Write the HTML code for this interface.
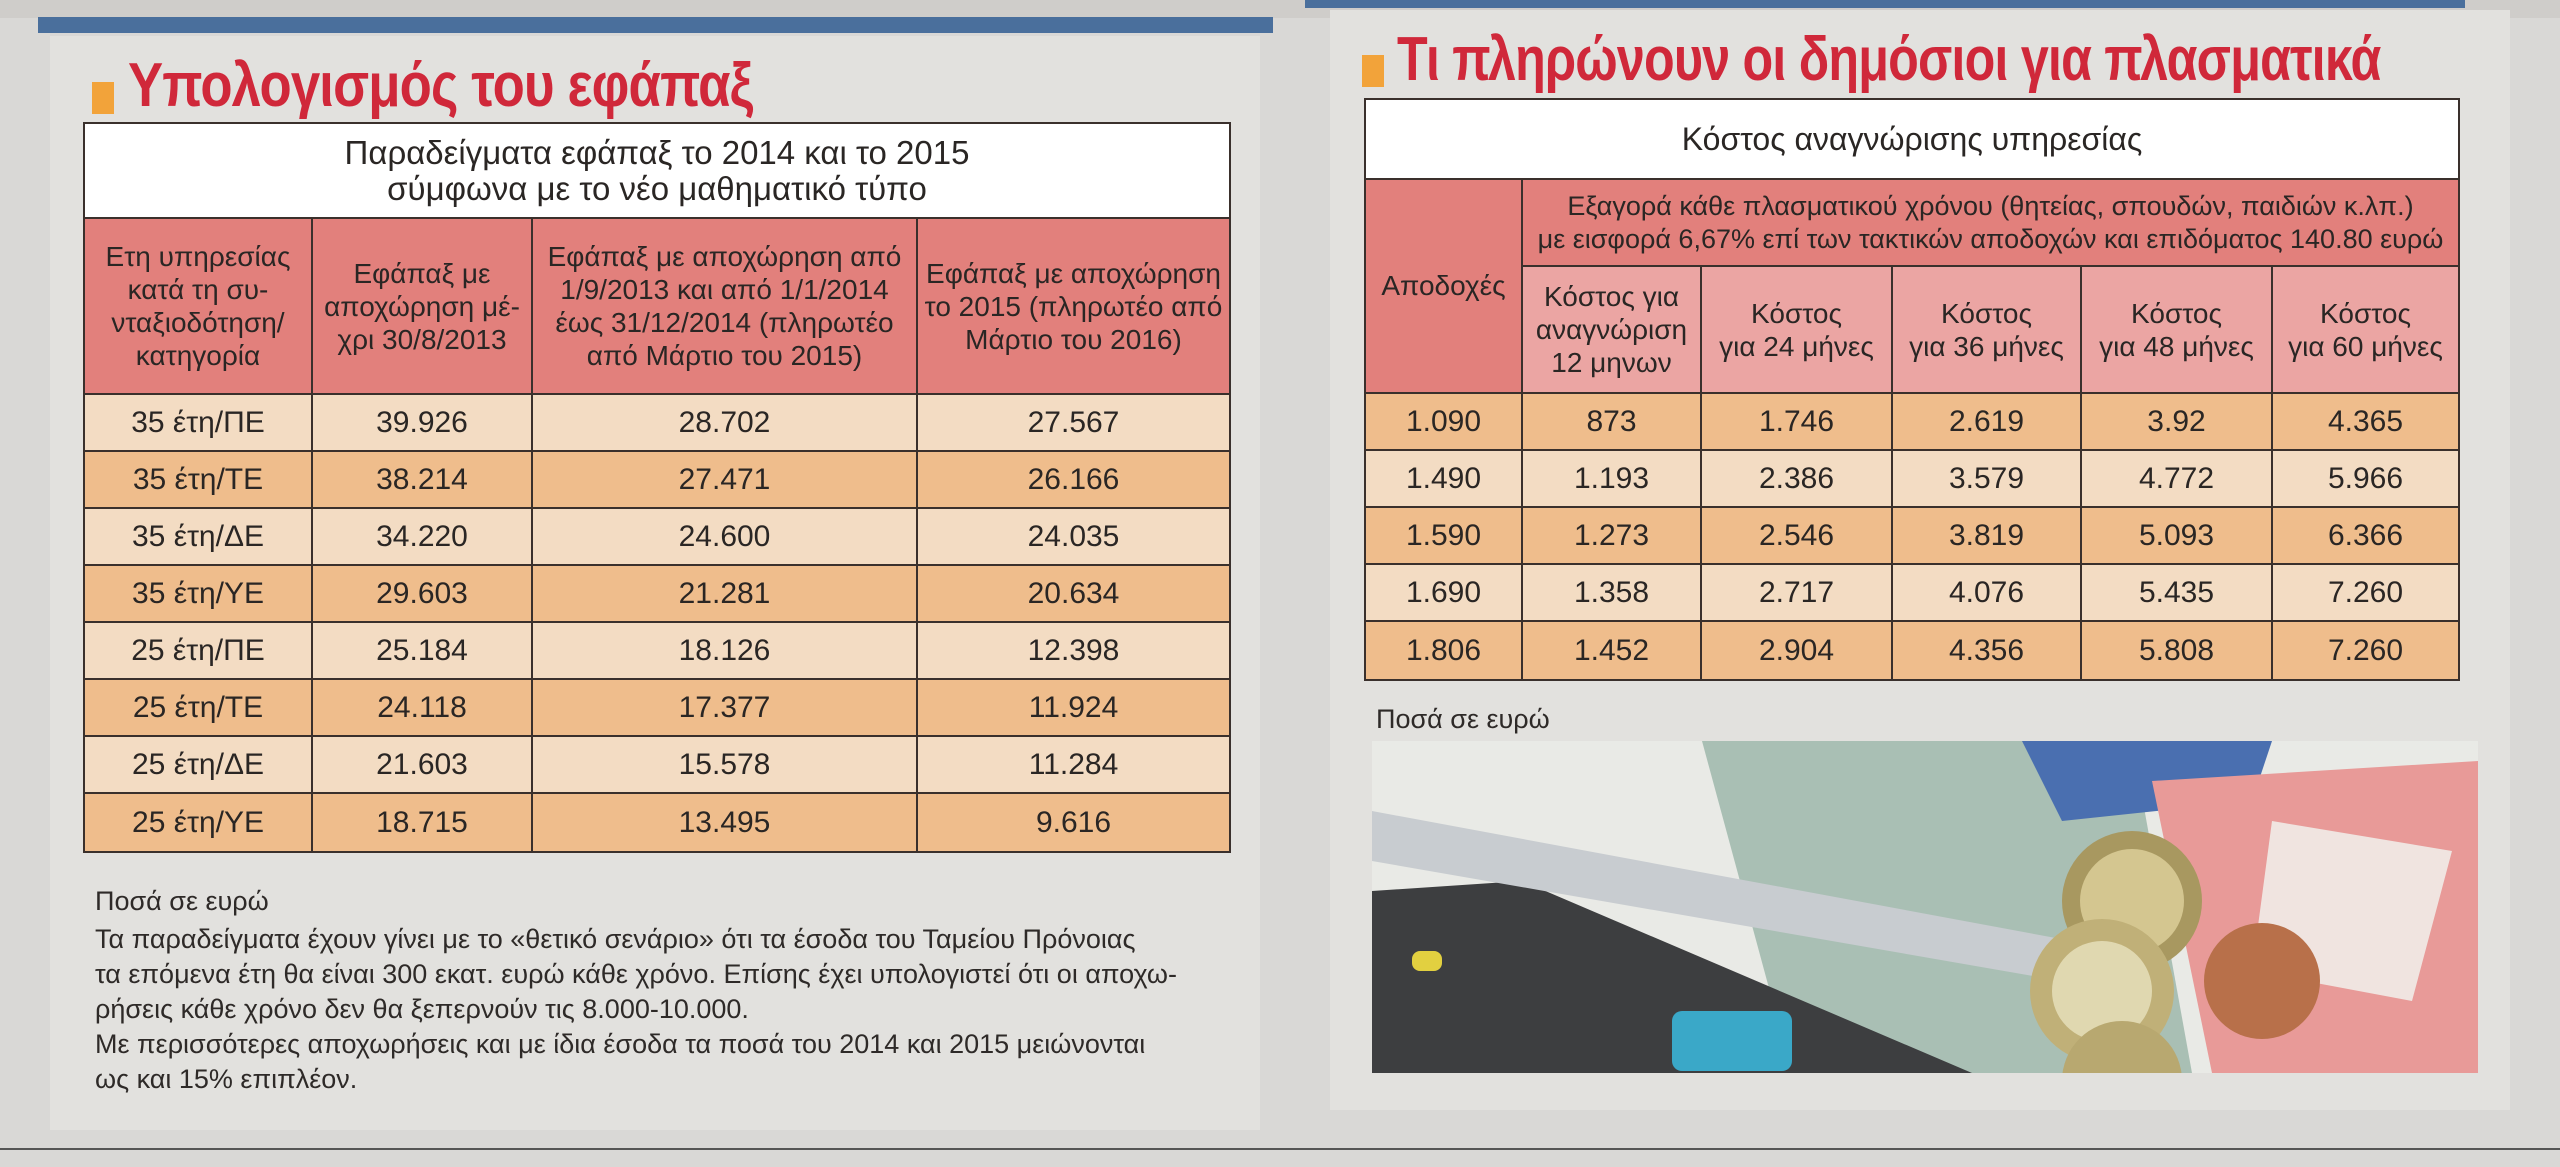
<!DOCTYPE html>
<html><head><meta charset="utf-8">
<style>
*{margin:0;padding:0;box-sizing:border-box}
body{width:2560px;height:1167px;overflow:hidden;background:#d9d8d6;font-family:"Liberation Sans Narrow","Liberation Sans",sans-serif;color:#2a2624;position:relative}
.abs{position:absolute}
.panel{background:#e2e1de}
.title{font-weight:bold;color:#d0283a;font-size:62px;white-space:nowrap;letter-spacing:-1px;transform-origin:0 0}
.sq{background:#f2a33a}
.box{border:2px solid #3a302c;background:#fff}
.cell{position:absolute;display:flex;align-items:center;justify-content:center;text-align:center;border-right:2px solid #3a302c;border-bottom:2px solid #3a302c;font-size:30px;line-height:1.2}
.note{font-size:27px;line-height:35px;color:#2e2a28}
</style></head><body>
<div class="abs" style="left:0;top:0;width:2560px;height:18px;background:#cfcdca"></div>
<div class="abs" style="left:38px;top:17px;width:1235px;height:16px;background:#4a6f9c"></div>
<div class="abs" style="left:1305px;top:0;width:1160px;height:8px;background:#4a6f9c"></div>
<div class="abs panel" style="left:50px;top:36px;width:1210px;height:1094px"></div>
<div class="abs panel" style="left:1330px;top:10px;width:1180px;height:1100px"></div>
<div class="abs" style="left:0;top:1148px;width:2560px;height:2px;background:#555"></div>

<div class="abs sq" style="left:92px;top:82px;width:22px;height:32px"></div>
<div class="abs title" style="left:128px;top:50px;transform:scaleX(0.85)">Υπολογισμός του εφάπαξ</div>
<div class="abs sq" style="left:1362px;top:55px;width:22px;height:32px"></div>
<div class="abs title" style="left:1397px;top:24px;transform:scaleX(0.81)">Τι πληρώνουν οι δημόσιοι για πλασματικά</div>

<div class="abs box" id="lt" style="left:83px;top:122px;width:1148px;height:731px"></div>
<div class="abs box" id="rt" style="left:1364px;top:98px;width:1096px;height:583px"></div>

<div class="abs note" style="left:95px;top:884px">Ποσά σε ευρώ</div>
<div class="abs note" style="left:95px;top:922px;width:1150px">Τα παραδείγματα έχουν γίνει με το «θετικό σενάριο» ότι τα έσοδα του Ταμείου Πρόνοιας<br>τα επόμενα έτη θα είναι 300 εκατ. ευρώ κάθε χρόνο. Επίσης έχει υπολογιστεί ότι οι αποχω-<br>ρήσεις κάθε χρόνο δεν θα ξεπερνούν τις 8.000-10.000.<br>Με περισσότερες αποχωρήσεις και με ίδια έσοδα τα ποσά του 2014 και 2015 μειώνονται<br>ως και 15% επιπλέον.</div>
<div class="abs note" style="left:1376px;top:702px">Ποσά σε ευρώ</div>

<svg class="abs" style="left:1372px;top:741px" width="1106" height="332" viewBox="0 0 1106 332">
<rect width="1106" height="332" fill="#e9eae6"/>
<polygon points="330,0 760,0 820,332 420,332" fill="#a9bfb4"/>
<polygon points="650,0 900,0 880,60 690,80" fill="#4a6fb0"/>
<polygon points="780,40 1106,20 1106,332 840,332" fill="#e89a98"/>
<polygon points="900,80 1080,110 1040,260 880,230" fill="#f0e4e0"/>
<polygon points="0,150 150,140 600,332 0,332" fill="#3d3e40"/>
<rect x="40" y="210" width="30" height="20" rx="8" fill="#e2d040"/>
<rect x="300" y="270" width="120" height="60" rx="10" fill="#3aa8c8"/>
<polygon points="0,70 700,200 690,240 0,120" fill="#c8ccd0"/>
<circle cx="760" cy="160" r="70" fill="#a89860"/><circle cx="760" cy="160" r="52" fill="#d4c690"/>
<circle cx="730" cy="250" r="72" fill="#c0b078"/><circle cx="730" cy="250" r="50" fill="#e0d8b0"/>
<circle cx="890" cy="240" r="58" fill="#b8704a"/>
<circle cx="750" cy="340" r="60" fill="#b8a870"/>
</svg>

<script>
// Left table data
const ltCategories=["35 έτη/ΠΕ","35 έτη/ΤΕ","35 έτη/ΔΕ","35 έτη/ΥΕ","25 έτη/ΠΕ","25 έτη/ΤΕ","25 έτη/ΔΕ","25 έτη/ΥΕ"];
const ltUntil2013=["39.926","38.214","34.220","29.603","25.184","24.118","21.603","18.715"];
const lt2014=["28.702","27.471","24.600","21.281","18.126","17.377","15.578","13.495"];
const lt2015=["27.567","26.166","24.035","20.634","12.398","11.924","11.284","9.616"];
const ltHeaders=["Ετη υπηρεσίας<br>κατά τη συ-<br>νταξιοδότηση/<br>κατηγορία","Εφάπαξ με<br>αποχώρηση μέ-<br>χρι 30/8/2013","Εφάπαξ με αποχώρηση από<br>1/9/2013 και από 1/1/2014<br>έως 31/12/2014 (πληρωτέο<br>από Μάρτιο του 2015)","Εφάπαξ με αποχώρηση<br>το 2015 (πληρωτέο από<br>Μάρτιο του 2016)"];
// Right table data
const rtSalaries=["1.090","1.490","1.590","1.690","1.806"];
const rt12=["873","1.193","1.273","1.358","1.452"];
const rt24=["1.746","2.386","2.546","2.717","2.904"];
const rt36=["2.619","3.579","3.819","4.076","4.356"];
const rt48=["3.92","4.772","5.093","5.435","5.808"];
const rt60=["4.365","5.966","6.366","7.260","7.260"];
const rtHeaders=["Κόστος για<br>αναγνώριση<br>12 μηνων","Κόστος<br>για 24 μήνες","Κόστος<br>για 36 μήνες","Κόστος<br>για 48 μήνες","Κόστος<br>για 60 μήνες"];

function cell(parent,x,y,w,h,html,bg,name,extra){
  const d=document.createElement('div');
  d.className='cell';
  d.style.cssText=`left:${x}px;top:${y}px;width:${w}px;height:${h}px;background:${bg};`+(extra||'');
  d.innerHTML=html;
  
  
  parent.appendChild(d);
  return d;
}
const light='#f3dcc3', orange='#efbd8c';
// left
const lt=document.getElementById('lt');
const lcx=[0,228,448,833,1144];
cell(lt,0,0,1144,95,'Παραδείγματα εφάπαξ το 2014 και το 2015<br>σύμφωνα με το νέο μαθηματικό τύπο','#fff','lt-title','font-size:33px;line-height:36px;border-right:none;');
for(let c=0;c<4;c++){
  cell(lt,lcx[c],95,lcx[c+1]-lcx[c],176,ltHeaders[c],'#e2807c','lt-header-'+c,'font-size:28px;line-height:33px;'+(c==3?'border-right:none;':''));
}
const ltCols=[ltCategories,ltUntil2013,lt2014,lt2015];
const rowH=57;
for(let r=0;r<ltCategories.length;r++){
  const y=271+r*rowH;
  const bg=r%2?orange:light;
  for(let c=0;c<4;c++){
    cell(lt,lcx[c],y,lcx[c+1]-lcx[c],rowH,ltCols[c][r],bg,'lt-cell-r'+r+'-c'+c,(c==3?'border-right:none;':'')+(r==ltCategories.length-1?'border-bottom:none;':''));
  }
}
// right
const rt=document.getElementById('rt');
const rcx=[0,157,336,527,716,907,1092];
cell(rt,0,0,1092,80,'Κόστος αναγνώρισης υπηρεσίας','#fff','rt-title','font-size:32px;border-right:none;');
cell(rt,0,80,157,214,'Αποδοχές','#e2807c','rt-header-salary','font-size:28px;');
cell(rt,157,80,935,87,'Εξαγορά κάθε πλασματικού χρόνου (θητείας, σπουδών, παιδιών κ.λπ.)<br>με εισφορά 6,67% επί των τακτικών αποδοχών και επιδόματος 140.80 ευρώ','#e2807c','rt-header-group','font-size:27px;line-height:33px;border-right:none;');
for(let c=1;c<6;c++){
  cell(rt,rcx[c],167,rcx[c+1]-rcx[c],127,rtHeaders[c-1],'#eba5a3','rt-header-'+c,'font-size:28px;line-height:33px;'+(c==5?'border-right:none;':''));
}
const rtCols=[rtSalaries,rt12,rt24,rt36,rt48,rt60];
for(let r=0;r<rtSalaries.length;r++){
  const y=294+r*57;
  const bg=r%2?light:orange;
  for(let c=0;c<6;c++){
    cell(rt,rcx[c],y,rcx[c+1]-rcx[c],57,rtCols[c][r],bg,'rt-cell-r'+r+'-c'+c,(c==5?'border-right:none;':'')+(r==rtSalaries.length-1?'border-bottom:none;':''));
  }
}
</script>
</body></html>
